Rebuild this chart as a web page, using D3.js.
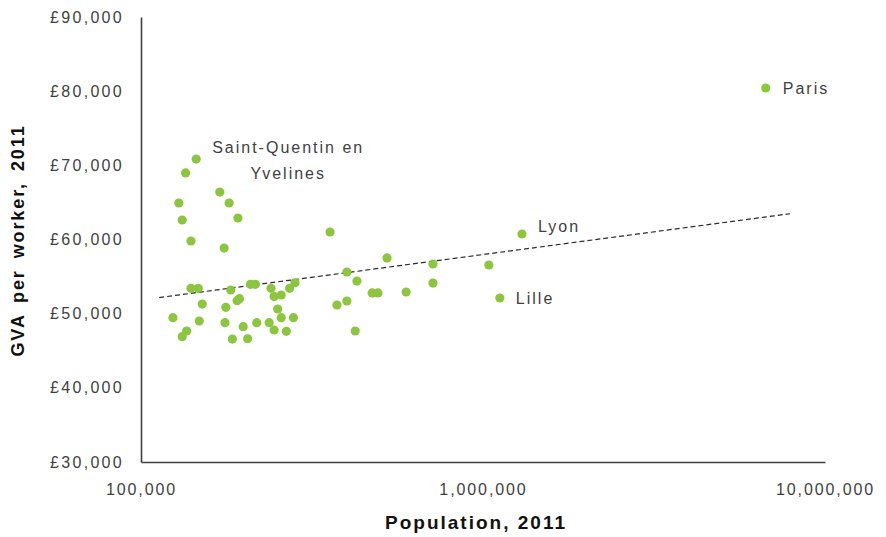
<!DOCTYPE html>
<html>
<head>
<meta charset="utf-8">
<script src="https://cdnjs.cloudflare.com/ajax/libs/d3/7.8.5/d3.min.js"></script>
<style>
  body { margin: 0; background: #fff; }
  svg { display: block; font-family: "Liberation Sans", Arial, sans-serif; }
</style>
</head>
<body>
<svg id="chart" width="886" height="537"></svg>
<script>
// population (2011) and GVA per worker (2011)
var population = [
  6710000, 1300000, 1120000, 145000, 135000, 129000, 132000, 140000, 170000,
  181000, 192000, 175000, 357000, 524000, 714000, 1040000, 714000, 596000,
  474000, 493000, 400000, 428000, 400000, 374000, 423000,
  140000, 147000, 183000, 151000, 124000, 148000, 136000, 132000, 177000,
  176000, 194000, 191000, 199000, 185000, 205000, 209000, 216000, 218000,
  240000, 245000, 257000, 251000, 257000, 237000, 245000, 266000, 279000,
  272000, 282000
];
var gva = [
  80430, 60740, 52110, 70850, 68970, 64920, 62630, 59800, 66400,
  64920, 62900, 58850, 61010, 57510, 56700, 56560, 54130, 52920,
  52790, 52790, 55620, 54400, 51710, 51170, 47660,
  53420, 53420, 53190, 51300, 49460, 49010, 47660, 46900, 50860,
  48780, 52020, 51750, 48240, 46580, 46620, 53960, 53960, 48780,
  53420, 52300, 52520, 50630, 49460, 48780, 47800, 47620, 49460,
  53420, 54170
];
// named points: index into the arrays above
var labelIndex = [0, 1, 2, 3];
var labelText = [["Paris"], ["Lyon"], ["Lille"], ["Saint-Quentin en", "Yvelines"]];

var xTicks = [100000, 1000000, 10000000];
var yTicks = [30000, 40000, 50000, 60000, 70000, 80000, 90000];
var trendRange = [113000, 7900000];

var svg = d3.select("#chart");
var plot = { left: 141, right: 825, top: 17, bottom: 462 };
var textColor = "#3f3f3f";

var x = d3.scaleLog().domain([100000, 10000000]).range([plot.left, plot.right]);
var y = d3.scaleLinear().domain([30000, 90000]).range([plot.bottom, plot.top]);

var fmt = d3.format(",");

// y axis
var yAxis = svg.append("g")
  .attr("transform", "translate(" + plot.left + ",0)")
  .call(d3.axisLeft(y).tickValues(yTicks).tickSize(0).tickPadding(17)
    .tickFormat(function (d) { return "£" + fmt(d); }));
yAxis.select(".domain").attr("stroke", "#404040").attr("stroke-width", 1.6);
yAxis.selectAll(".tick text")
  .attr("fill", textColor)
  .attr("font-size", 16)
  .attr("letter-spacing", "2.3px")
  .attr("font-family", "Liberation Sans, Arial, sans-serif");

// x axis
var xAxis = svg.append("g")
  .attr("transform", "translate(0," + plot.bottom + ")")
  .call(d3.axisBottom(x).tickValues(xTicks).tickSize(0).tickPadding(22)
    .tickFormat(fmt));
xAxis.select(".domain").attr("stroke", "#404040").attr("stroke-width", 1.6);
xAxis.selectAll(".tick text")
  .attr("fill", textColor)
  .attr("font-size", 16)
  .attr("letter-spacing", "1.9px")
  .attr("font-family", "Liberation Sans, Arial, sans-serif");

// log trendline (least squares on log10 population)
var lx = population.map(function (p) { return Math.log10(p); });
var mx = d3.mean(lx), my = d3.mean(gva);
var sxy = d3.sum(lx, function (v, i) { return (v - mx) * (gva[i] - my); });
var sxx = d3.sum(lx, function (v) { return (v - mx) * (v - mx); });
var slope = sxy / sxx;
var intercept = my - slope * mx;
var trendPts = d3.range(0, 41).map(function (i) {
  var lp = Math.log10(trendRange[0]) + i / 40 * (Math.log10(trendRange[1]) - Math.log10(trendRange[0]));
  return [Math.pow(10, lp), intercept + slope * lp];
});
svg.append("path")
  .datum(trendPts)
  .attr("fill", "none")
  .attr("stroke", "#2b2b2b")
  .attr("stroke-width", 1.2)
  .attr("stroke-dasharray", "5,3")
  .attr("d", d3.line()
    .x(function (d) { return x(d[0]); })
    .y(function (d) { return y(d[1]); }));

// points
svg.append("g")
  .selectAll("circle")
  .data(population)
  .enter()
  .append("circle")
  .attr("cx", function (d) { return x(d); })
  .attr("cy", function (d, i) { return y(gva[i]); })
  .attr("r", 4.6)
  .attr("fill", "#8cc63f");

// point labels
var labelOffset = [[17, 2], [16, -6], [16, 2], [92, -10]];
var labels = svg.append("g")
  .attr("fill", textColor)
  .attr("font-size", 16)
  .attr("letter-spacing", "2px");
labelIndex.forEach(function (idx, k) {
  var lines = labelText[k];
  var t = labels.append("text")
    .attr("x", x(population[idx]) + labelOffset[k][0])
    .attr("y", y(gva[idx]) + labelOffset[k][1])
    .attr("text-anchor", lines.length > 1 ? "middle" : "start")
    .attr("dominant-baseline", "middle");
  lines.forEach(function (s, j) {
    t.append("tspan")
      .attr("x", x(population[idx]) + labelOffset[k][0])
      .attr("dy", j == 0 ? 0 : 26)
      .text(s);
  });
});

// axis titles
svg.append("text")
  .attr("x", 476)
  .attr("y", 529)
  .attr("text-anchor", "middle")
  .attr("font-weight", "bold")
  .attr("font-size", 19)
  .attr("letter-spacing", "2px")
  .attr("fill", "#111")
  .text("Population, 2011");

svg.append("text")
  .attr("transform", "translate(24," + ((plot.top + plot.bottom) / 2 + 1) + ") rotate(-90)")
  .attr("text-anchor", "middle")
  .attr("font-weight", "bold")
  .attr("font-size", 18)
  .attr("letter-spacing", "1.9px")
  .attr("word-spacing", "4px")
  .attr("fill", "#111")
  .text("GVA per worker, 2011");
</script>
</body>
</html>
